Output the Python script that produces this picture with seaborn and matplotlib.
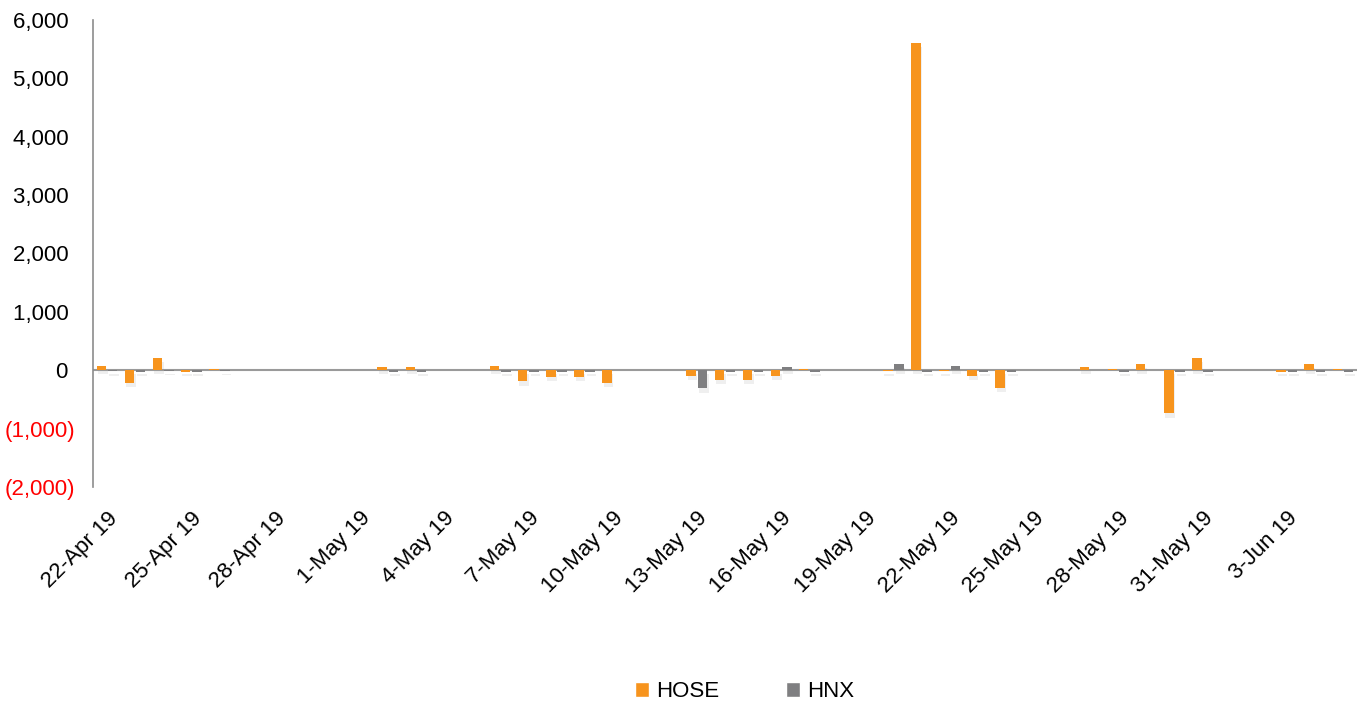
import pandas as pd
import numpy as np
import matplotlib.pyplot as plt
import matplotlib.patheffects as pe
from matplotlib.patches import Patch
import seaborn as sns

# -- data (net value per trading day) --
trade_days = ['2019-04-22', '2019-04-23', '2019-04-24', '2019-04-25', '2019-04-26',
              '2019-05-02', '2019-05-03',
              '2019-05-06', '2019-05-07', '2019-05-08', '2019-05-09', '2019-05-10',
              '2019-05-13', '2019-05-14', '2019-05-15', '2019-05-16', '2019-05-17',
              '2019-05-20', '2019-05-21', '2019-05-22', '2019-05-23', '2019-05-24',
              '2019-05-27', '2019-05-28', '2019-05-29', '2019-05-30', '2019-05-31',
              '2019-06-03', '2019-06-04', '2019-06-05']
hose = [80, -215, 210, -30, 15,
        50, 50,
        80, -190, -120, -120, -215,
        -100, -160, -160, -100, 15,
        -20, 5600, -20, -100, -300,
        50, 15, 110, -740, 210,
        -30, 110, 15]
hnx = [-20, -30, -10, -30, -10,
       -30, -30,
       -30, -30, -30, -30, 10,
       -310, -30, -30, 50, -30,
       110, -30, 80, -30, -30,
       5, -30, 5, -30, -30,
       -30, -30, -30]

start, end = '2019-04-22', '2019-06-05'
tick_step = 3

HOSE_COLOR = '#F7941D'
HNX_COLOR = '#7F7F81'

all_days = pd.date_range(start, end, freq='D')
order = [d.strftime('%Y-%m-%d') for d in all_days]

df = pd.DataFrame({'date': trade_days * 2,
                   'value': hose + hnx,
                   'market': ['HOSE'] * len(hose) + ['HNX'] * len(hnx)})

sns.set_style('white')
plt.rcParams['font.family'] = ['Liberation Sans', 'DejaVu Sans']
plt.rcParams['text.color'] = 'black'
plt.rcParams['xtick.color'] = 'black'
plt.rcParams['ytick.color'] = 'black'

fig = plt.figure(figsize=(13.59, 7.06), dpi=100)
ax = fig.add_axes([0.0684, 0.3102, 0.9301, 0.6615])

sns.barplot(data=df, x='date', y='value', hue='market', order=order,
            hue_order=['HOSE', 'HNX'], palette=[HOSE_COLOR, HNX_COLOR],
            width=0.8, gap=0.15, errorbar=None, legend=False, ax=ax,
            linewidth=0, saturation=1)

# soft drop shadow like the original
for p in ax.patches:
    p.set_path_effects([pe.SimplePatchShadow(offset=(1, -3), shadow_rgbFace='#999999', alpha=0.15),
                        pe.Normal()])

ax.set_ylim(-2000, 6000)
ax.set_xlim(-0.5, len(order) - 0.5)
ax.set_yticks(np.arange(-2000, 6001, 1000))
ylabels = []
for v in ax.get_yticks():
    if v < 0:
        ylabels.append(f'({abs(v):,.0f})')
    else:
        ylabels.append(f'{v:,.0f} ')
ax.set_yticklabels(ylabels, fontsize=16)
for lab, v in zip(ax.get_yticklabels(), ax.get_yticks()):
    if v < 0:
        lab.set_color('red')

ticks = list(range(0, len(order), tick_step))
ax.set_xticks(ticks)
ax.set_xticklabels([all_days[i].strftime('%-d-%b %y') for i in ticks],
                   rotation=45, ha='right', rotation_mode='anchor', fontsize=16)
ax.tick_params(axis='both', length=0)
ax.tick_params(axis='y', pad=13)
ax.tick_params(axis='x', pad=15)

ax.set_xlabel('')
ax.set_ylabel('')
for s in ['top', 'right', 'bottom']:
    ax.spines[s].set_visible(False)
ax.spines['left'].set_color('#8c8c8c')
ax.spines['left'].set_linewidth(1.2)
ax.axhline(0, color='#9a9a9a', linewidth=1.5, zorder=0.5)

handles = [Patch(facecolor=HOSE_COLOR, label='HOSE'), Patch(facecolor=HNX_COLOR, label='HNX')]
fig.legend(handles=handles, loc='center', bbox_to_anchor=(745 / 1359, 0.02), ncol=2,
           frameon=False, fontsize=16, handlelength=0.6, handleheight=0.6,
           handletextpad=0.35, columnspacing=3.0)

fig.savefig('out.png', dpi=100)
